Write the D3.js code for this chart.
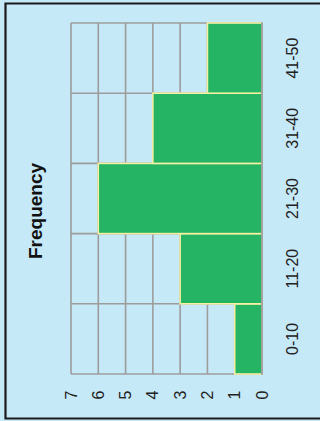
<!DOCTYPE html>
<html>
<head>
<meta charset="utf-8">
<script src="https://cdn.jsdelivr.net/npm/d3@7"></script>
<style>
  html, body { margin: 0; padding: 0; background: #c6e9f8; }
  svg { display: block; }
</style>
</head>
<body>
<svg id="chart" width="320" height="421"></svg>
<script>
// Age groups and how many fall in each
const categories = ["0-10", "11-20", "21-30", "31-40", "41-50"];
const frequency = [1, 3, 6, 4, 2];
const valueTicks = [0, 1, 2, 3, 4, 5, 6, 7];
const axisTitle = "Frequency";

const svg = d3.select("#chart");
const W = 320, H = 421;
const plot = { left: 71, right: 262, top: 23, bottom: 374 };
const font = "'Liberation Sans', Arial, sans-serif";

svg.append("rect").attr("width", W).attr("height", H).attr("fill", "#c6e9f8");

// Outer frame (the right side runs past the page edge)
svg.append("path")
  .attr("d", `M${W + 5},3.5 H5.5 V418.5 H${W + 5}`)
  .attr("fill", "none").attr("stroke", "#1a1a1a").attr("stroke-width", 2.2);

// Values run right-to-left, categories bottom-to-top
const x = d3.scaleLinear().domain([0, 7]).range([plot.right, plot.left]);
const y = d3.scaleBand().domain(categories).range([plot.bottom, plot.top]).padding(0);

const grid = svg.append("g").attr("stroke", "#9c9c9c").attr("stroke-width", 1.6);
grid.selectAll("line.v").data(valueTicks).join("line")
  .attr("class", "v")
  .attr("x1", d => x(d)).attr("x2", d => x(d))
  .attr("y1", plot.top).attr("y2", plot.bottom);
const bounds = categories.map(c => y(c)).concat([plot.bottom]);
grid.selectAll("line.h").data(bounds).join("line")
  .attr("class", "h")
  .attr("x1", plot.left).attr("x2", plot.right)
  .attr("y1", d => d).attr("y2", d => d);

// Bars
svg.append("g").selectAll("rect").data(categories).join("rect")
  .attr("x", (c, i) => x(frequency[i]))
  .attr("width", (c, i) => x(0) - x(frequency[i]))
  .attr("y", c => y(c))
  .attr("height", y.bandwidth())
  .attr("fill", "#25b463")
  .attr("stroke", "#f6f0a2")
  .attr("stroke-width", 1.6);

// Zero baseline on top of the bars
svg.append("line")
  .attr("x1", x(0)).attr("x2", x(0))
  .attr("y1", plot.top - 0.8).attr("y2", plot.bottom + 0.8)
  .attr("stroke", "#9c9c9c").attr("stroke-width", 1.8);

// Value tick labels
svg.append("g").selectAll("text").data(valueTicks).join("text")
  .attr("transform", d => `translate(${x(d)},395) rotate(-90)`)
  .attr("text-anchor", "middle")
  .attr("dominant-baseline", "central")
  .attr("font-family", font).attr("font-size", 16).attr("fill", "#222")
  .text(d => d);

// Category labels
svg.append("g").selectAll("text").data(categories).join("text")
  .attr("transform", c => `translate(292,${y(c) + y.bandwidth() / 2}) rotate(-90)`)
  .attr("text-anchor", "middle")
  .attr("dominant-baseline", "central")
  .attr("font-family", font).attr("font-size", 16).attr("fill", "#222")
  .text(c => c);

// Axis title
svg.append("text")
  .attr("transform", "translate(35,211) rotate(-90)")
  .attr("text-anchor", "middle")
  .attr("dominant-baseline", "central")
  .attr("font-family", font).attr("font-size", 19).attr("font-weight", "bold")
  .attr("fill", "#111")
  .text(axisTitle);
</script>
</body>
</html>
